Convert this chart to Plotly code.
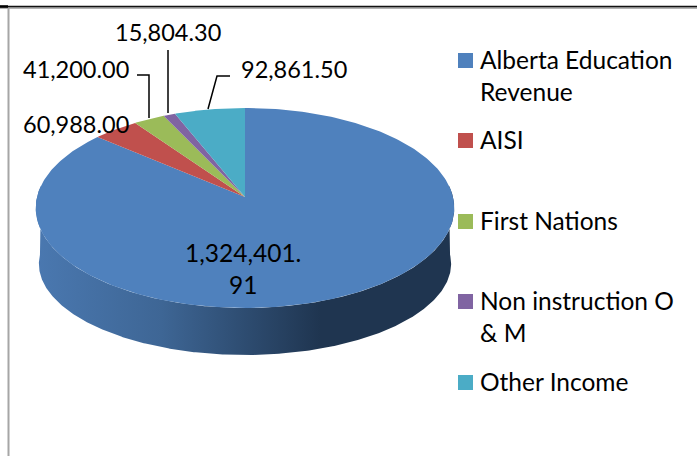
import numpy as np
import plotly.graph_objects as go

categories = ["Alberta Education Revenue", "AISI", "First Nations", "Non instruction O & M", "Other Income"]
values = [1324401.91, 60988.00, 41200.00, 15804.30, 92861.50]
data_labels = ["1,324,401.<br>91", "60,988.00", "41,200.00", "15,804.30", "92,861.50"]
colors = ["#4F81BD", "#C0504D", "#9BBB59", "#8064A2", "#4BACC6"]
legend_labels = ["Alberta Education<br>Revenue", "AISI", "First Nations", "Non instruction O<br>& M", "Other Income"]

W, H = 697, 456
FONT = "Lato"
FS = 24.5
FS_SMALL = 23.5
CX, CY, A, B, K = 245, 197, 208, 98.8, 0.11
DROP_SIDE, DROP_FRONT = 57, 47


def project(theta, drop=0.0):
    s = 1 / (1 + K * np.cos(theta))
    return CX + A * np.sin(theta) * s, CY - B * np.cos(theta) * s + drop


fig = go.Figure()
total = sum(values)
fr = np.array(values) / total
# Slices run clockwise from 12 o'clock in data order
edges = 2 * np.pi * np.concatenate([[0], np.cumsum(fr)])

# side wall of the visible (front) part
t = np.linspace(np.pi / 2 - 0.12, 3 * np.pi / 2 + 0.12, 400)
tx, ty = project(t)
bx, by = project(t)
front = np.clip(-np.cos(t), 0, 1)
by = by + DROP_SIDE + (DROP_FRONT - DROP_SIDE) * front
bx = CX + (bx - CX) * 0.985
# the wall's outline: keep the bottom edge only across its front part
keep = np.cos(t) <= 0
wx = np.concatenate([tx, bx[keep][::-1]])
wy = np.concatenate([ty, by[keep][::-1]])
fig.add_trace(go.Scatter(
    x=wx, y=wy,
    mode="lines", line=dict(width=0), fill="toself",
    fillgradient=dict(type="horizontal", colorscale=[
        [0, "#4A78B0"], [0.3, "#3E6695"], [0.68, "#1F3550"], [1, "#1F3550"]]),
    hoverinfo="skip", showlegend=False))

# top face
for i in range(len(values)):
    th = np.linspace(edges[i], edges[i + 1], 300)
    x, y = project(th)
    fig.add_trace(go.Scatter(
        x=np.concatenate([[CX], x, [CX]]), y=np.concatenate([[CY], y, [CY]]),
        mode="lines", line=dict(width=0), fill="toself", fillcolor=colors[i],
        name=categories[i], hoverinfo="name", showlegend=False))

# leader lines
leaders = [
    ([137, 149, 149], [75, 75, 118]),
    ([168, 168], [50, 113]),
    ([230, 217, 208], [76, 76, 109]),
]
for lx, ly in leaders:
    fig.add_trace(go.Scatter(x=lx, y=ly, mode="lines", line=dict(color="#000000", width=1.5),
                             hoverinfo="skip", showlegend=False))

# legend swatches
leg_y = [60.5, 140.5, 221.5, 301.5, 382.5]
fig.add_trace(go.Scatter(x=[465.5] * 5, y=leg_y, mode="markers",
                         marker=dict(symbol="square", size=15, color=colors, line=dict(width=0)),
                         hoverinfo="skip", showlegend=False))

ann = []
for lab, y in zip(legend_labels, leg_y):
    ann.append(dict(x=479, y=y - 17, xanchor="left", yanchor="top", text=lab, showarrow=False, align="left",
                    font=dict(family=FONT, size=FS, color="#000000")))
for lab, x, y, fs in [(data_labels[0], 243, 268, FS), (data_labels[1], 76, 124, FS_SMALL),
                      (data_labels[2], 76, 69, FS_SMALL), (data_labels[3], 167.5, 32, FS_SMALL),
                      (data_labels[4], 294, 69, FS_SMALL)]:
    ann.append(dict(x=x, y=y, xanchor="center", yanchor="middle", text=lab, showarrow=False, align="center",
                    font=dict(family=FONT, size=fs, color="#000000")))
for a in ann:
    a.update(xref="x", yref="y", borderpad=0)

shapes = [
    dict(type="line", x0=0, x1=W, y0=8, y1=8, line=dict(color="#9A9A9A", width=1.5)),
    dict(type="line", x0=0, x1=W, y0=6.5, y1=6.5, line=dict(color="#111111", width=1.5)),
    dict(type="line", x0=0, x1=8, y0=6.5, y1=6.5, line=dict(color="#000000", width=2.5)),
    dict(type="line", x0=8.5, x1=8.5, y0=8, y1=H, line=dict(color="#A6A6A6", width=2)),
]
for s in shapes:
    s.update(xref="x", yref="y")

fig.update_layout(
    width=W, height=H, margin=dict(l=0, r=0, t=0, b=0),
    paper_bgcolor="#FFFFFF", plot_bgcolor="#FFFFFF",
    xaxis=dict(range=[0, W], visible=False, fixedrange=True),
    yaxis=dict(range=[H, 0], visible=False, fixedrange=True),
    annotations=ann, shapes=shapes, showlegend=False,
)
fig.write_html("out.html", config={"displayModeBar": False},
               post_script="document.body.style.margin='0';document.body.style.overflow='hidden';")
